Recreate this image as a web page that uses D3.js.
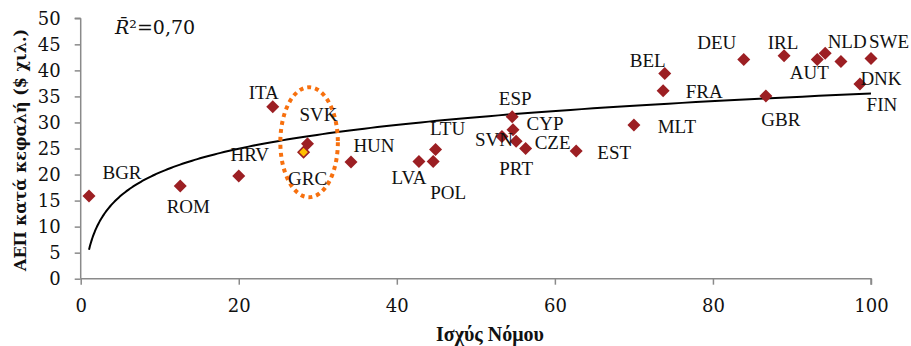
<!DOCTYPE html>
<html><head><meta charset="utf-8">
<script src="https://cdn.jsdelivr.net/npm/d3@7"></script>
<style>body{margin:0;background:#fff}svg{display:block}</style>
</head><body><svg id="c" width="911" height="346"></svg>
<script>
// ---- data ----
const countries = ["BGR","ROM","HRV","ITA","SVK","HUN","LVA","POL","LTU","SVN","ESP","CYP","PRT","CZE","EST","MLT","BEL","FRA","DEU","GBR","IRL","AUT","NLD","DNK","FIN","SWE","GRC"];
const ruleOfLaw = [1.05,12.6,20.0,24.3,28.7,34.2,42.8,44.6,44.9,53.3,54.6,54.7,55.1,56.3,62.7,70.0,73.9,73.7,83.9,86.7,89.0,93.2,94.2,96.2,98.6,100,28.2];
const gdpPerCapita = [15.9,17.8,19.7,33.0,25.9,22.4,22.5,22.5,24.8,27.3,31.1,28.6,26.4,25.0,24.5,29.5,39.4,36.1,42.1,35.1,42.8,42.1,43.3,41.7,37.4,42.3,24.3];
const highlighted = ["GRC"];
const xTicks = [0,20,40,60,80,100];
const yTicks = [0,5,10,15,20,25,30,35,40,45,50];
const xTitle = "Ισχύς Νόμου";
const yTitle = "ΑΕΠ κατά κεφαλή ($ χιλ.)";
// highlight ellipse around Greece (data units)
const ellipseCenter = [28.9, 26.2];
const ellipseRadii = [3.64, 10.56];
// label offsets in pixels (dx, dy), same order as countries
const labelOffsets = [[33,-23],[8,21],[11,-22],[-9,-14],[11,-29],[23,-17],[-10,16],[15,31],[12,-21],[-8,3],[3,-18],[32,-6],[0,27],[27,-6],[38,1],[43,1],[-17,-13],[41,1],[-27,-17],[15,24],[-1,-13],[-8,13],[22,-12],[40,17],[22,21],[18,-17],[4,26]];

// ---- chart ----
const svg = d3.select("#c");
const x = d3.scaleLinear().domain([0,100]).range([80.7,871]);
const y = d3.scaleLinear().domain([0,50]).range([278.7,18.3]);
const axisColor = "#8a8a8a";
const tickFont = "'DejaVu Serif', serif";

const xAxis = svg.append("g").attr("transform",`translate(0,${y(0)})`)
  .call(d3.axisBottom(x).tickValues(xTicks).tickSize(6).tickPadding(15).tickFormat(d3.format("d")));
const yAxis = svg.append("g").attr("transform",`translate(${x(0)},0)`)
  .call(d3.axisLeft(y).tickValues(yTicks).tickSize(6).tickPadding(14).tickFormat(d3.format("d")));
[xAxis,yAxis].forEach(g=>{
  g.selectAll(".domain").attr("stroke",axisColor).attr("stroke-width",1.5).attr("d", g===xAxis ? `M${x(0)},0H${x(100)}V6` : `M0,${y(50)}H-6M0,${y(50)}V${y(0)}`);
  g.selectAll(".tick line").attr("stroke",axisColor).attr("stroke-width",1.5);
  g.selectAll(".tick text").attr("fill","#111").style("font-family",tickFont).style("font-size","18px");
});

// trend line: log regression fitted on data
const lx = ruleOfLaw.map(v=>Math.log(v));
const mx = d3.mean(lx), my = d3.mean(gdpPerCapita);
const b = d3.sum(lx.map((v,i)=>(v-mx)*(gdpPerCapita[i]-my))) / d3.sum(lx.map(v=>(v-mx)*(v-mx)));
const a = my - b*mx;
const xmin = d3.min(ruleOfLaw), xmax = d3.max(ruleOfLaw);
const trendPts = d3.range(0,201).map(i=>{const xv = xmin*Math.pow(xmax/xmin,i/200); return [xv, a+b*Math.log(xv)];});
svg.append("path").attr("d", d3.line().x(d=>x(d[0])).y(d=>y(d[1])).curve(d3.curveLinear)(trendPts))
  .attr("fill","none").attr("stroke","#000").attr("stroke-width",2);

// ellipse
svg.append("ellipse")
  .attr("cx",x(ellipseCenter[0])).attr("cy",y(ellipseCenter[1]))
  .attr("rx",x(ellipseRadii[0])-x(0)).attr("ry",y(0)-y(ellipseRadii[1]))
  .attr("fill","none").attr("stroke","#f7700e").attr("stroke-width",4).attr("stroke-dasharray","4,4");

// points
const pts = countries.map((c,i)=>({c, xv:ruleOfLaw[i], yv:gdpPerCapita[i], off:labelOffsets[i]}));
const diamond = s=>`M0,${-s}L${s},0L0,${s}L${-s},0Z`;
svg.append("g").selectAll("path").data(pts).join("path")
  .attr("d", d=> highlighted.includes(d.c) ? diamond(5.5) : diamond(6.5))
  .attr("transform", d=>`translate(${x(d.xv)},${y(d.yv)})`)
  .attr("fill", d=> highlighted.includes(d.c) ? "#ffc000" : "#9c1f23")
  .attr("stroke", d=> highlighted.includes(d.c) ? "#9c1f23" : "none")
  .attr("stroke-width", 1.5);

svg.append("g").selectAll("text").data(pts).join("text")
  .attr("x", d=>x(d.xv)+d.off[0]).attr("y", d=>y(d.yv)+d.off[1])
  .attr("text-anchor","middle").attr("dominant-baseline","central")
  .style("font-family","'Liberation Serif', serif").style("font-size","19px").attr("fill","#111")
  .text(d=>d.c);

// R^2
svg.append("text").attr("x",115).attr("y",34)
  .style("font-family",tickFont).style("font-size","19px").attr("fill","#111")
  .html(`<tspan font-style="italic">R\u0304</tspan><tspan>\u00B2=0,70</tspan>`);

// titles
svg.append("text").attr("x",490).attr("y",341).attr("text-anchor","middle")
  .style("font-family","'Liberation Serif', serif").style("font-size","20px").style("font-weight","bold").attr("fill","#111")
  .text(xTitle);
svg.append("text").attr("transform","translate(26,150) rotate(-90)").attr("text-anchor","middle")
  .style("font-family","'DejaVu Serif', serif").style("font-size","16px").style("font-weight","bold").attr("fill","#111")
  .text(yTitle);
</script></body></html>
